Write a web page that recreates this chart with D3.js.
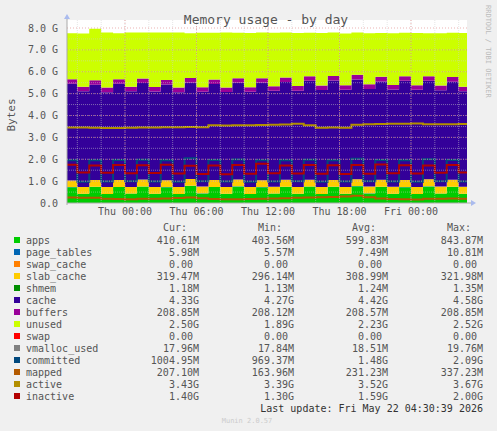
<!DOCTYPE html><html><head><meta charset="utf-8">
<script src="https://cdn.jsdelivr.net/npm/d3@7"></script>
<style>body{margin:0;background:#F0F0F0}text{font-family:"DejaVu Sans Mono",monospace}</style></head><body>
<svg id="c" width="497" height="431"></svg>
<script>
// hourly samples, starting Wed 19:00 (values in GB)
const startTime = new Date(2026,4,20,19,0);
const apps     = [0.72,0.42,0.74,0.41,0.73,0.43,0.75,0.42,0.72,0.41,0.78,0.44,0.73,0.42,0.76,0.41,0.72,0.43,0.74,0.42,0.75,0.41,0.73,0.42,0.77,0.44,0.74,0.42,0.72,0.41,0.76,0.43,0.74,0.42,0.74];
const page_tables=[0.007,0.006,0.008,0.006,0.007,0.006,0.008,0.006,0.007,0.006,0.01,0.006,0.007,0.006,0.008,0.006,0.007,0.006,0.008,0.006,0.007,0.006,0.008,0.006,0.009,0.006,0.007,0.006,0.007,0.006,0.008,0.006,0.007,0.006,0.006];
const slab_cache=[0.30,0.30,0.30,0.31,0.31,0.30,0.31,0.31,0.31,0.31,0.31,0.31,0.31,0.31,0.31,0.31,0.31,0.31,0.31,0.31,0.31,0.31,0.31,0.31,0.31,0.31,0.31,0.32,0.32,0.32,0.32,0.32,0.32,0.32,0.32];
const shmem    = [0.001,0.001,0.001,0.001,0.001,0.001,0.001,0.001,0.001,0.001,0.001,0.001,0.001,0.001,0.001,0.001,0.001,0.001,0.001,0.001,0.001,0.001,0.001,0.001,0.001,0.001,0.001,0.001,0.001,0.001,0.001,0.001,0.001,0.001,0.001];
const cache    = [4.42,4.38,4.36,4.34,4.40,4.37,4.42,4.36,4.38,4.34,4.40,4.33,4.39,4.34,4.42,4.36,4.46,4.38,4.47,4.40,4.52,4.44,4.55,4.44,4.56,4.46,4.50,4.44,4.54,4.44,4.50,4.40,4.48,4.36,4.33];
const buffers  = [0.208,0.208,0.208,0.208,0.208,0.208,0.208,0.208,0.208,0.208,0.208,0.208,0.208,0.208,0.208,0.209,0.209,0.209,0.209,0.209,0.209,0.209,0.209,0.209,0.209,0.209,0.209,0.209,0.209,0.209,0.209,0.209,0.209,0.209,0.209];
const unused   = [2.10,2.43,2.35,2.52,2.10,2.48,2.10,2.49,2.17,2.52,2.05,2.49,2.14,2.51,2.08,2.47,2.09,2.45,2.06,2.42,1.99,2.39,1.99,2.36,1.93,2.33,2.01,2.36,1.99,2.38,1.96,2.39,2.03,2.45,2.50];
const committed= [1.95,0.97,1.96,0.98,1.97,0.99,1.98,0.98,1.96,0.97,2.05,0.99,1.97,0.98,1.99,0.97,1.95,0.98,1.96,0.99,1.98,0.97,1.96,0.98,2.02,0.99,1.97,0.98,1.95,0.97,2.00,0.99,1.97,0.98,1.00];
const mapped   = [0.25,0.24,0.24,0.20,0.18,0.17,0.19,0.20,0.21,0.23,0.25,0.22,0.18,0.17,0.17,0.18,0.19,0.21,0.22,0.24,0.25,0.26,0.27,0.30,0.33,0.26,0.21,0.18,0.17,0.16,0.19,0.20,0.21,0.20,0.21];
const active   = [3.45,3.45,3.44,3.43,3.43,3.44,3.45,3.45,3.46,3.46,3.47,3.46,3.55,3.54,3.55,3.56,3.57,3.58,3.59,3.62,3.55,3.44,3.45,3.44,3.58,3.60,3.61,3.62,3.62,3.63,3.60,3.60,3.60,3.61,3.61];
const inactive = [1.75,1.40,1.72,1.38,1.74,1.36,1.73,1.37,1.75,1.35,1.70,1.33,1.71,1.32,1.74,1.34,1.80,1.36,1.72,1.35,1.74,1.34,1.73,1.33,1.74,1.34,1.76,1.36,1.73,1.35,1.72,1.38,1.74,1.40,1.40];
const yTicks = ["0.0","1.0 G","2.0 G","3.0 G","4.0 G","5.0 G","6.0 G","7.0 G","8.0 G"];
const xTickLabels = ["Thu 00:00","Thu 06:00","Thu 12:00","Thu 18:00","Fri 00:00"];
const legend = [
 ["apps","#00CC00","410.61M","403.56M","599.83M","843.87M"],
 ["page_tables","#0066B3","5.98M","5.57M","7.49M","10.81M"],
 ["swap_cache","#FF8000","0.00","0.00","0.00","0.00"],
 ["slab_cache","#FFCC00","319.47M","296.14M","308.99M","321.98M"],
 ["shmem","#008F00","1.18M","1.13M","1.24M","1.35M"],
 ["cache","#330099","4.33G","4.27G","4.42G","4.58G"],
 ["buffers","#990099","208.85M","208.12M","208.57M","208.85M"],
 ["unused","#CCFF00","2.50G","1.89G","2.23G","2.52G"],
 ["swap","#FF0000","0.00","0.00","0.00","0.00"],
 ["vmalloc_used","#808080","17.96M","17.84M","18.51M","19.76M"],
 ["committed","#00487D","1004.95M","969.37M","1.48G","2.09G"],
 ["mapped","#B35A00","207.10M","163.96M","231.23M","337.23M"],
 ["active","#B38F00","3.43G","3.39G","3.52G","3.67G"],
 ["inactive","#B30000","1.40G","1.30G","1.59G","2.00G"]];

const svg=d3.select("#c");
const L=67,R=467,T=28,B=203;
const t0=new Date(2026,4,20,19,8), t1=new Date(2026,4,22,4,42);
const x=d3.scaleTime().domain([t0,t1]).range([L,R]);
const y=d3.scaleLinear().domain([0,8]).range([B,T]);
const times=apps.map((_,i)=>new Date(+startTime+i*3600e3));
const rows=times.map((t,i)=>({t,apps:apps[i],page_tables:page_tables[i],swap_cache:0,slab_cache:slab_cache[i],shmem:shmem[i],cache:cache[i],buffers:buffers[i],unused:unused[i]}));
const keys=["apps","page_tables","swap_cache","slab_cache","shmem","cache","buffers","unused"];
const col=Object.fromEntries(legend.map(d=>[d[0],d[1]]));
svg.append("rect").attr("x",L).attr("y",T-8).attr("width",R-L).attr("height",B-T+8).attr("fill","#fff");
svg.append("defs").append("clipPath").attr("id","cp").append("rect").attr("x",L).attr("y",T-8).attr("width",R-L).attr("height",B-T+8);
const g=svg.append("g").attr("clip-path","url(#cp)");
const st=d3.stack().keys(keys)(rows);
const area=d3.area().curve(d3.curveStepAfter).x(d=>x(d.data.t)).y0(d=>y(d[0])).y1(d=>y(d[1]));
g.selectAll("path.a").data(st).join("path").attr("fill",d=>col[d.key]).attr("d",area);
// grid
const minorT=d3.timeHour.every(2).range(t0,t1);
svg.selectAll("l.mx").data(minorT).join("line").attr("x1",d=>x(d)).attr("x2",d=>x(d)).attr("y1",T-8).attr("y2",B).attr("stroke","#ccc").attr("stroke-width",0.5).attr("stroke-dasharray","1,1");
svg.selectAll("l.my").data(d3.range(0.5,8,0.5)).join("line").attr("x1",L).attr("x2",R).attr("y1",d=>y(d)).attr("y2",d=>y(d)).attr("stroke","#ccc").attr("stroke-width",0.5).attr("stroke-dasharray","1,1");
const majT=d3.timeHour.every(6).range(t0,t1);
svg.selectAll("l.Mx").data(majT).join("line").attr("x1",d=>x(d)).attr("x2",d=>x(d)).attr("y1",T-8).attr("y2",B).attr("stroke","#e08080").attr("stroke-width",0.6).attr("stroke-dasharray","1,2");
svg.selectAll("l.My").data(d3.range(1,9)).join("line").attr("x1",L).attr("x2",R).attr("y1",d=>y(d)).attr("y2",d=>y(d)).attr("stroke","#e08080").attr("stroke-width",0.6).attr("stroke-dasharray","1,2");
// lines
const line=(arr)=>d3.line().curve(d3.curveStepAfter).x((d,i)=>x(times[i])).y(d=>y(d))(arr);
[["committed",committed],["mapped",mapped],["active",active],["inactive",inactive]].forEach(([k,a])=>
 g.append("path").attr("d",line(a)).attr("fill","none").attr("stroke",col[k]).attr("stroke-width",2));
// axes
svg.append("line").attr("x1",L).attr("x2",R+5).attr("y1",B).attr("y2",B).attr("stroke","#aaa");
svg.append("line").attr("x1",L).attr("x2",L).attr("y1",B+2).attr("y2",T-10).attr("stroke","#aaa");
svg.append("path").attr("d",`M${L-3},${T-9}L${L+3},${T-9}L${L},${T-14}Z`).attr("fill","#aabbee");
svg.append("path").attr("d",`M${R+4},${B-3}L${R+4},${B+3}L${R+9},${B}Z`).attr("fill","#aabbee");
svg.selectAll("t.y").data(yTicks).join("text").attr("x",58).attr("y",(d,i)=>y(i)+3.5).attr("text-anchor","end").attr("font-size",10).attr("fill","#555").attr("font-family","DejaVu Sans").text(d=>d);
svg.selectAll("t.x").data(majT.slice(0,xTickLabels.length)).join("text").attr("x",d=>x(d)).attr("y",215).attr("text-anchor","middle").attr("font-size",10).attr("fill","#555").attr("font-family","DejaVu Sans").text((d,i)=>xTickLabels[i]);
svg.append("text").attr("x",266).attr("y",24).attr("text-anchor","middle").attr("font-size",13).attr("fill","#555").attr("font-family","DejaVu Sans").text("Memory usage - by day");
svg.append("text").attr("transform","translate(15,115) rotate(-90)").attr("text-anchor","middle").attr("font-size",11).attr("fill","#555").attr("font-family","DejaVu Sans").text("Bytes");
svg.append("text").attr("transform","translate(486,5) rotate(90)").attr("font-size",7).attr("fill","#bbb").attr("font-family","DejaVu Sans").text("RRDTOOL / TOBI OETIKER");
// legend
const cx=[199,294,388,483];
["Cur:","Min:","Avg:","Max:"].forEach((h,i)=>svg.append("text").attr("x",cx[i]-24).attr("y",231).attr("text-anchor","middle").attr("font-size",10).attr("fill","#555").text(h));
legend.forEach((d,i)=>{const yy=244+i*12;
 svg.append("rect").attr("x",14).attr("y",yy-7).attr("width",6).attr("height",6).attr("fill",d[1]);
 svg.append("text").attr("x",26).attr("y",yy).attr("font-size",10).attr("fill","#555").text(d[0]);
 d.slice(2).forEach((v,j)=>svg.append("text").attr("x",v.endsWith("M")||v.endsWith("G")?cx[j]:cx[j]-6).attr("y",yy).attr("text-anchor","end").attr("font-size",10).attr("fill","#555").text(v));});
svg.append("text").attr("x",483).attr("y",412).attr("text-anchor","end").attr("font-size",10).attr("fill","#333").text("Last update: Fri May 22 04:30:39 2026");
svg.append("text").attr("x",247).attr("y",423).attr("text-anchor","middle").attr("font-size",7).attr("fill","#ccc").attr("font-family","DejaVu Sans").text("Munin 2.0.57");
</script></body></html>
